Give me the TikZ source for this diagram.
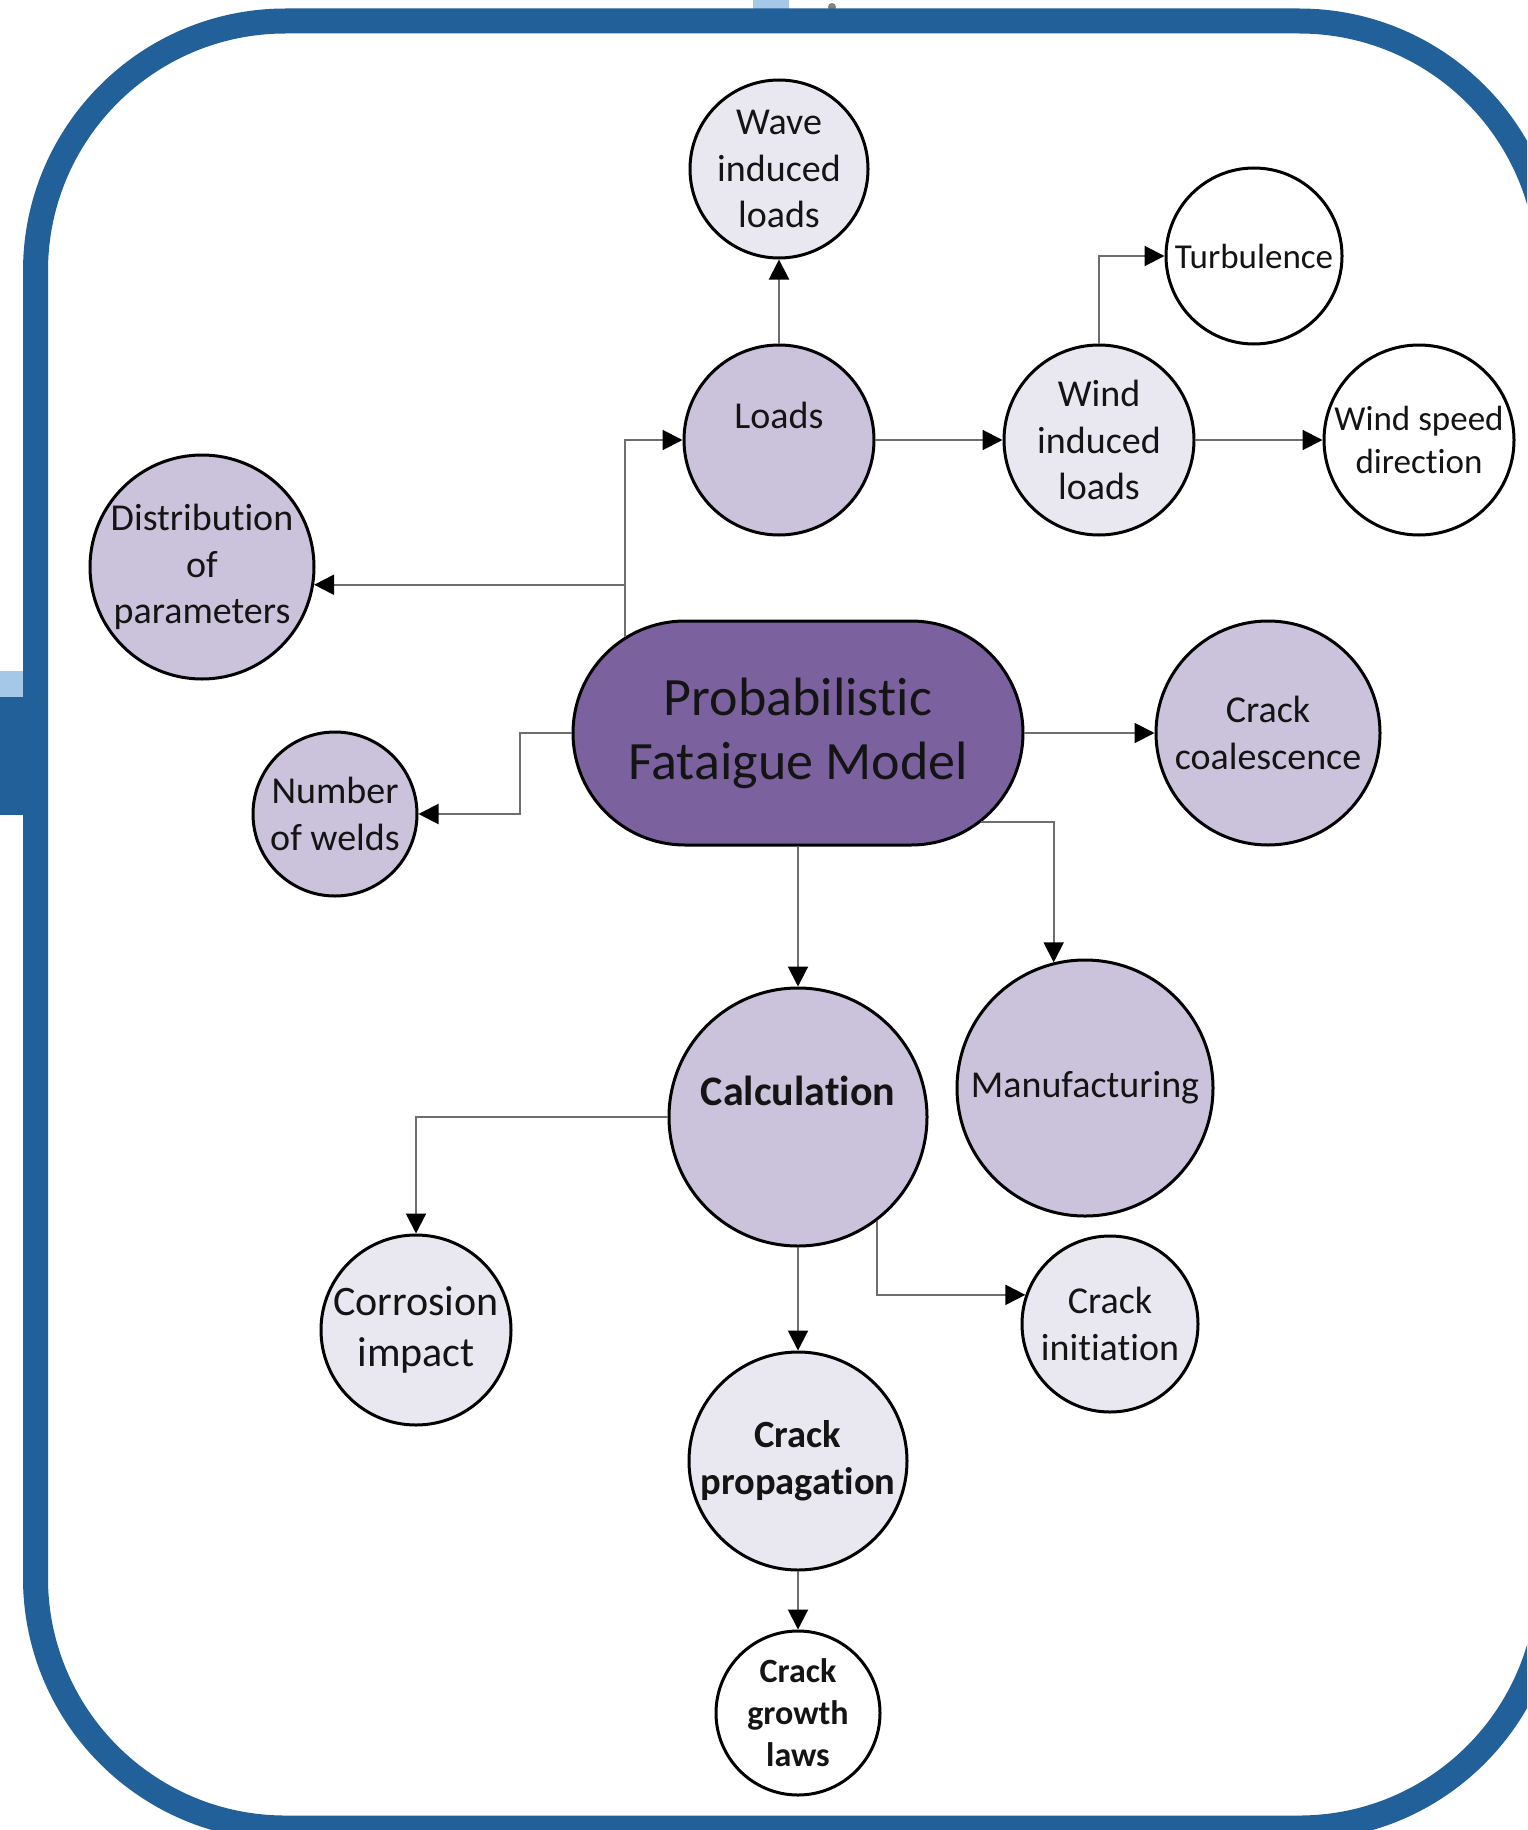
\documentclass[tikz,border=0pt]{standalone}
\usepackage{fontspec}
\setmainfont{Carlito}[Ligatures={NoCommon,NoContextual,NoRequired}]
\usepackage{xcolor}
\usepackage{tikz}
\definecolor{fra}{RGB}{34,96,154}
\definecolor{sky}{RGB}{166,200,232}
\definecolor{plm}{RGB}{123,98,159}
\definecolor{lil}{RGB}{203,195,219}
\definecolor{pal}{RGB}{233,232,240}
\definecolor{lin}{RGB}{110,110,110}
\definecolor{ink}{RGB}{20,20,20}
\usetikzlibrary{positioning,arrows.meta,shapes.misc}

\tikzset{
  bub/.style={circle,draw=black,line width=3pt,inner sep=0pt,align=center,text=ink,
    font=\fontsize{38}{46.7}\selectfont},
  mid/.style={bub,fill=lil},
  lite/.style={bub,fill=pal},
  blank/.style={bub,fill=white},
  conn/.style={draw=lin,line width=2pt,-{Triangle[length=20pt,width=20pt,color=black]}}
}

\begin{document}
\begin{tikzpicture}[x=1pt,y=-1pt]
\useasboundingbox (0,0) rectangle (1527,1830);
\clip (0,0) rectangle (1527,1830);
%\draw[step=100,gray,very thin] (0,0) grid (1527,1830);
\fill[sky] (753,0) rectangle (789,12);
\fill[gray] (832,7) circle (4);
\fill[sky] (0,671) rectangle (23,697);
\fill[fra] (0,697) rectangle (48,815);
\draw[fra,line width=25pt,rounded corners=250pt] (35.5,21) rectangle (1549,1828); % frame

\node[draw=black,line width=3pt,fill=plm,rounded rectangle,minimum width=450pt,minimum height=224pt,
  inner sep=0pt,align=center,text=ink,font=\fontsize{54}{64}\selectfont] (main) at (798,733) {Probabilis\kern0pt tic\\Fataigue Model};

\node[lite,minimum size=178pt] (wave) at (779,169) {Wave\\induced\\loads};
\node[mid,minimum size=190pt,label={[font=\fontsize{38}{46.7}\selectfont,text=ink,yshift=25pt]center:Loads}] (loads) at (779,440) {};
\node[lite,minimum size=190pt] (windl) at (1099,440) {Wind\\induced\\loads};
\node[blank,minimum size=176pt,font=\fontsize{35}{43}\selectfont] (turb) at (1254,256) {Turbulence};
\node[blank,minimum size=190pt,font=\fontsize{35}{43}\selectfont] (speed) at (1419,440) {Wind speed\\direction};
\node[mid,minimum size=224pt] (dist) at (202,567) {Distribut\kern0pt ion\\of\\parameters};
\node[mid,minimum size=164pt] (welds) at (335,814) {Number\\of welds};
\node[mid,minimum size=224pt] (coal) at (1268,733) {Crack\\coalescence};
\node[mid,minimum size=256pt] (manuf) at (1085,1088) {Manufacturing};
\node[mid,minimum size=258pt,label={[font=\fontsize{42}{50}\selectfont\bfseries,text=ink,yshift=26pt]center:Calculat\kern0pt ion}] (calc) at (798,1117) {};
\node[lite,minimum size=190pt,font=\fontsize{42}{51}\selectfont] (corr) at (416,1330) {Corrosion\\impact};
\node[lite,minimum size=176pt] (init) at (1110,1324) {Crack\\init\kern0pt iat\kern0pt ion};
\node[lite,minimum size=218pt,font=\fontsize{38.5}{46.7}\selectfont\bfseries] (prop) at (798,1461) {Crack\\propagat\kern0pt ion};
\node[blank,minimum size=164pt,font=\fontsize{34}{42}\selectfont\bfseries] (laws) at (798,1713) {Crack\\growth\\laws};

\draw[conn] (loads.north) -- (wave.south);
\draw[conn] (loads.east) -- (windl.west);
\draw[conn] (windl.north) |- (turb.west);
\draw[conn] (windl.east) -- (speed.west);
\draw[conn] (main.151) |- (loads.west);
\draw[conn] (main.151) |- (dist.-9);
\draw[conn] (main.west) -- ++(-52,0) |- (welds.east);
\draw[conn] (main.east) -- (coal.west);
\draw[conn] (main.-26) -| (manuf.104);
\draw[conn] (main.south) -- (calc.north);
\draw[conn] (calc.west) -| (corr.north);
\draw[conn] (calc.-53) |- (init.161);
\draw[conn] (calc.south) -- (prop.north);
\draw[conn] (prop.south) -- (laws.north);
\end{tikzpicture}
\end{document}
